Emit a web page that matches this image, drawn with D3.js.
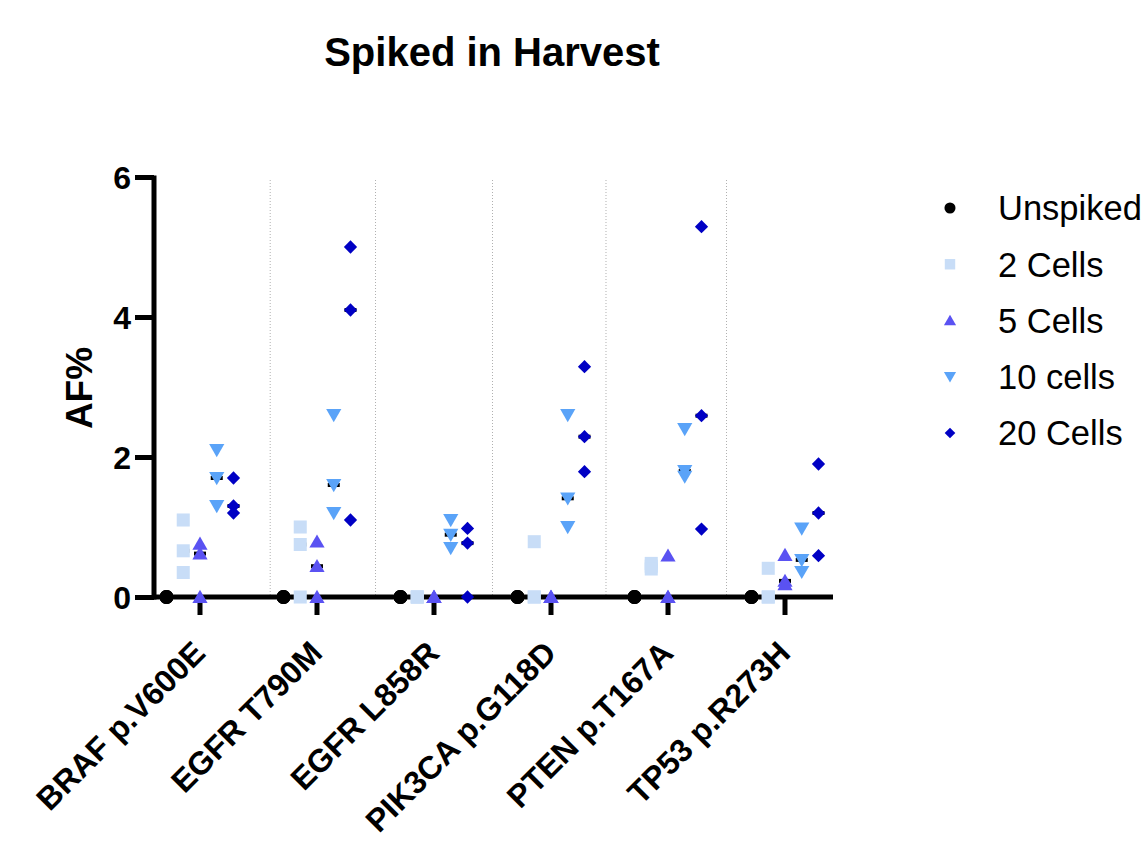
<!DOCTYPE html>
<html>
<head>
<meta charset="utf-8">
<script src="https://cdn.jsdelivr.net/npm/d3@7"></script>
<style>
  html, body { margin: 0; padding: 0; background: #fff; }
  svg { display: block; font-family: "Liberation Sans", Arial, sans-serif; }
</style>
</head>
<body>
<svg id="chart" width="1143" height="852"></svg>
<script>
// ---- data ----
const categories = ["BRAF p.V600E", "EGFR T790M", "EGFR L858R", "PIK3CA p.G118D", "PTEN p.T167A", "TP53 p.R273H"];
const seriesNames = ["Unspiked", "2 Cells", "5 Cells", "10 cells", "20 Cells"];
const unspiked = [[0,0,0],[0,0,0],[0,0,0],[0,0,0],[0,0,0],[0,0,0]];
const cells2   = [[1.1,0.66,0.35],[1.0,0.75,0],[0,0,0],[0.79,0,0],[0.48,0.44,0.4],[0.41,0,0]];
const cells5   = [[0.76,0.62,0],[0.79,0.44,0],[0,0,0],[0,0,0],[0.59,0,0],[0.6,0.23,0.18]];
const cells10  = [[2.1,1.7,1.3],[2.6,1.6,1.2],[1.1,0.89,0.7],[2.6,1.41,1.0],[2.4,1.8,1.72],[0.98,0.53,0.36]];
const cells20  = [[1.7,1.3,1.2],[5.0,4.1,1.1],[0.98,0.77,0],[3.29,2.29,1.79],[5.29,2.59,0.97],[1.9,1.2,0.59]];
const yTicks = [0, 2, 4, 6];
const dividers = [0.6, 1.5, 2.5, 3.47, 4.5]; // group separators, in category-index units

const seriesValues = [unspiked, cells2, cells5, cells10, cells20];
const colors = ["#000000", "#c8ddf7", "#5a52f2", "#5aa3f8", "#0000c4"];

// ---- layout ----
const svg = d3.select("#chart");
const x = d3.scaleBand().domain(categories).range([141.5, 843.5]).padding(0);
const xOff = d3.scalePoint().domain(seriesNames).range([-33.5, 33.5]);
const y = d3.scaleLinear().domain([0, 6]).range([597, 177]);
const xIdx = d3.scaleLinear().domain([0, categories.length - 1]).range([x(categories[0]) + x.bandwidth()/2, x(categories[categories.length-1]) + x.bandwidth()/2]);

function symbolPath(i, big) {
  const k = big ? 1 : 0.8;
  if (i === 0) return d3.symbol(d3.symbolCircle, 150 * k * k)();
  if (i === 1) return d3.symbol(d3.symbolSquare, 170 * k * k)();
  if (i === 2) return d3.symbol(d3.symbolTriangle, 100 * k * k)();
  if (i === 3) return d3.symbol(d3.symbolTriangle, 100 * k * k)();
  return d3.symbol(d3.symbolSquare, 88 * k * k)();
}
function symbolRot(i) { return i === 3 ? 180 : (i === 4 ? 45 : 0); }
function symbolDy(i) { return i === 2 ? 1.5 : (i === 3 ? -1.5 : 0); }

// title
svg.append("text").attr("x", 492).attr("y", 66).attr("text-anchor", "middle")
  .attr("font-size", 40).attr("font-weight", "bold").text("Spiked in Harvest");

// dividers
svg.append("g").selectAll("line").data(dividers).join("line")
  .attr("x1", d => xIdx(d)).attr("x2", d => xIdx(d))
  .attr("y1", 180).attr("y2", 597)
  .attr("stroke", "#b0b0b0").attr("stroke-width", 1).attr("stroke-dasharray", "1,2");

// y axis
const yAxis = d3.axisLeft(y).tickValues(yTicks).tickSize(19).tickPadding(4).tickFormat(d3.format("d"));
const gy = svg.append("g").attr("transform", "translate(154,0)").call(yAxis);
gy.select(".domain").attr("d", "M0,175.5V599.5").attr("stroke", "#000").attr("stroke-width", 5);
gy.selectAll(".tick line").attr("stroke", "#000").attr("stroke-width", 5);
gy.selectAll(".tick text").attr("font-size", 32).attr("font-weight", "bold").attr("fill", "#000")
  .attr("font-family", "Liberation Sans, Arial, sans-serif").attr("dy", "0.36em");

// y axis title
svg.append("text").attr("transform", "translate(92,388) rotate(-90)").attr("text-anchor", "middle")
  .attr("font-size", 37).attr("font-weight", "bold").text("AF%");

// x axis
const xAxis = d3.axisBottom(x).tickSize(18).tickPadding(6);
const gx = svg.append("g").attr("transform", "translate(0,597)").call(xAxis);
gx.select(".domain").attr("d", "M152,0H833").attr("stroke", "#000").attr("stroke-width", 5);
gx.selectAll(".tick line").attr("stroke", "#000").attr("stroke-width", 5);
gx.selectAll(".tick text")
  .attr("font-size", 32).attr("font-weight", "bold").attr("fill", "#000")
  .attr("font-family", "Liberation Sans, Arial, sans-serif")
  .attr("text-anchor", "end")
  .attr("y", 0).attr("dy", 0)
  .attr("transform", "translate(7,58) rotate(-45)");

// medians
const plot = svg.append("g");
seriesValues.forEach((vals, si) => {
  const meds = vals.map((v, ci) => ({ci, m: d3.median(v)}));
  plot.append("g").selectAll("line").data(meds).join("line")
    .attr("x1", d => x(categories[d.ci]) + x.bandwidth()/2 + xOff(seriesNames[si]) - 6)
    .attr("x2", d => x(categories[d.ci]) + x.bandwidth()/2 + xOff(seriesNames[si]) + 6)
    .attr("y1", d => y(d.m)).attr("y2", d => y(d.m))
    .attr("stroke", "#000").attr("stroke-width", 4);
});

// points
seriesValues.forEach((vals, si) => {
  const pts = [];
  vals.forEach((v, ci) => v.forEach(val => pts.push({ci, val})));
  plot.append("g").selectAll("path").data(pts).join("path")
    .attr("d", symbolPath(si, true))
    .attr("transform", d => `translate(${x(categories[d.ci]) + x.bandwidth()/2 + xOff(seriesNames[si])},${y(d.val) + symbolDy(si)}) rotate(${symbolRot(si)})`)
    .attr("fill", colors[si]);
});

// legend
const legend = svg.append("g");
const legendY = d3.scalePoint().domain(seriesNames).range([208, 433]);
seriesNames.forEach((name, si) => {
  legend.append("path").attr("d", symbolPath(si, false))
    .attr("transform", `translate(950,${legendY(name) + symbolDy(si)*0.8}) rotate(${symbolRot(si)})`)
    .attr("fill", colors[si]);
  legend.append("text").attr("x", 998).attr("y", legendY(name)).attr("dy", "0.36em")
    .attr("font-size", 34.5).attr("fill", "#000").text(name);
});
</script>
</body>
</html>
